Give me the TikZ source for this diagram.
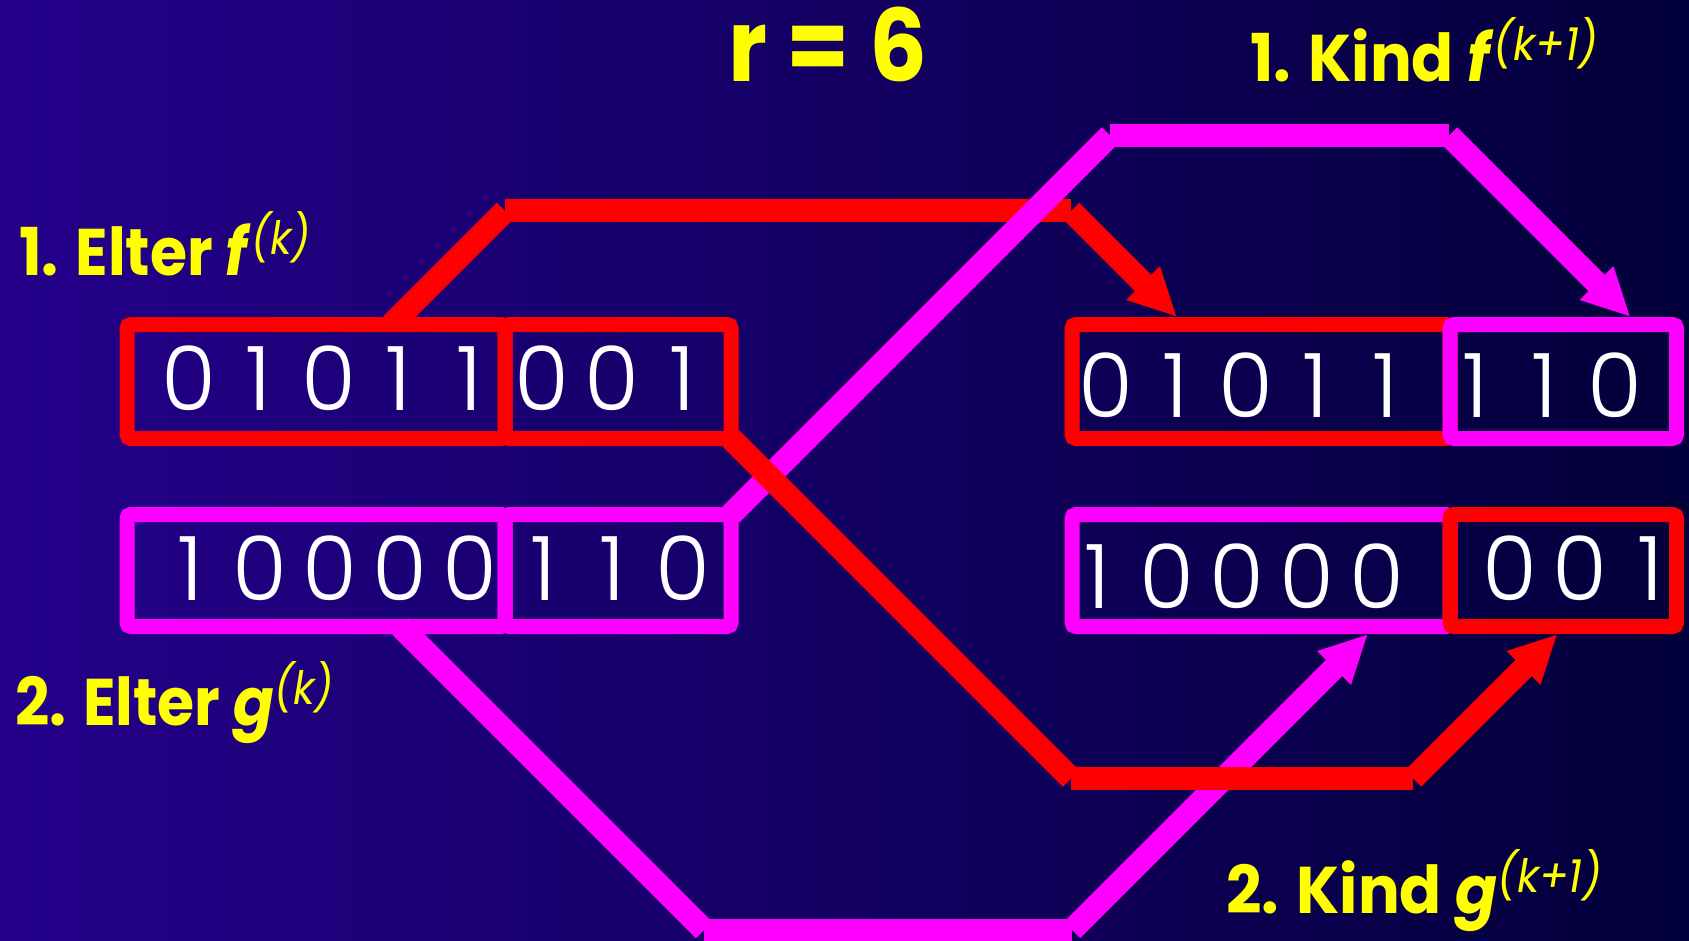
\documentclass[tikz,border=0pt]{standalone}
\usepackage{graphicx}
\usepackage{fontspec}
\setmainfont{Poppins}
\newfontfamily\digitfont{Poppins Light}
\usetikzlibrary{arrows.meta}
\definecolor{bgL}{RGB}{36,0,138}
\definecolor{bgM}{RGB}{22,0,106}
\definecolor{bgR}{RGB}{2,0,58}
\definecolor{cRed}{RGB}{255,0,0}
\definecolor{cMag}{RGB}{255,0,255}
\definecolor{cYel}{RGB}{255,255,0}
\newcommand{\bitcell}[1]{\makebox[70pt][c]{#1}}
\newcommand{\expo}[1]{\raisebox{21pt}{\mdseries\itshape\fontsize{46}{46}\selectfont(#1)}}
\begin{document}
\begin{tikzpicture}[x=1pt,y=-1pt,
  link/.style={line width=23pt, line cap=butt},
  redlink/.style={link, draw=cRed},
  maglink/.style={link, draw=cMag},
  tipped/.style={-{Triangle[length=48pt,width=44pt]}},
  bitbox/.style={draw, line width=15pt, rounded corners=4pt, inner sep=0pt, outer sep=0pt},
  bits/.style={text=white, font=\digitfont\fontsize{89}{89}\selectfont, inner sep=0pt, anchor=base},
  lbl/.style={text=cYel, font=\bfseries\fontsize{66}{66}\selectfont, inner sep=0pt, anchor=base west}]
\useasboundingbox (0,0) rectangle (1689,941);
\shade[left color=bgL, middle color=bgM, right color=bgR] (0,0) rectangle (1689,941);

\coordinate (rA) at (391.5,324.5);
\coordinate (rB) at (505,211);
\coordinate (rC) at (1071,211);
\coordinate (rD) at (1177,317);
\coordinate (mA) at (731,514.5);
\coordinate (mB) at (1110,135.5);
\coordinate (mC) at (1449,135.5);
\coordinate (mD) at (1630.5,317);
\coordinate (rE0) at (731,438.5);
\coordinate (rE) at (1071,778.5);
\coordinate (rF) at (1413,778.5);
\coordinate (rG) at (1557.5,634);
\coordinate (mE) at (400.5,626.5);
\coordinate (mF) at (704,930);
\coordinate (mG) at (1072,930);
\coordinate (mH) at (1368,634);

% red upper path
\draw[redlink] (rA) -- (rB);
\draw[redlink] (rB) -- (rC);
\draw[redlink,tipped] (rC) -- (rD);
% magenta upper path
\draw[maglink] (mA) -- (mB);
\draw[maglink] (mB) -- (mC);
\draw[maglink,tipped] (mC) -- (mD);
% magenta lower path
\draw[maglink] (mE) -- (mF);
\draw[maglink] (mF) -- (mG);
\draw[maglink,tipped] (mG) -- (mH);
% red lower path
\draw[redlink] (rE0) -- (rE);
\draw[redlink] (rE) -- (rF);
\draw[redlink,tipped] (rF) -- (rG);

% boxes
\node[bitbox, draw=cRed, minimum width=378pt, minimum height=114pt] (LTa) at (316,381.5) {};
\node[bitbox, draw=cRed, minimum width=226pt, minimum height=114pt] (LTb) at (618,381.5) {};
\node[bitbox, draw=cMag, minimum width=378pt, minimum height=112pt] (LBa) at (316,570.5) {};
\node[bitbox, draw=cMag, minimum width=226pt, minimum height=112pt] (LBb) at (618,570.5) {};
\node[bitbox, draw=cRed, minimum width=378pt, minimum height=114pt] (RTa) at (1261,381.5) {};
\node[bitbox, draw=cMag, minimum width=226.5pt, minimum height=114pt] (RTb) at (1563.25,381.5) {};
\node[bitbox, draw=cMag, minimum width=378pt, minimum height=112pt] (RBa) at (1261,570.5) {};
\node[bitbox, draw=cRed, minimum width=226.5pt, minimum height=112pt] (RBb) at (1563.25,570.5) {};

% digits
\node[bits] (dLTa) at (329,410) {\bitcell{0}\bitcell{1}\bitcell{0}\bitcell{1}\bitcell{1}};
\node[bits] (dLTb) at (612,410) {\bitcell{0}\bitcell{0}\bitcell{1}};
\node[bits] (dLBa) at (330,600) {\bitcell{1}\bitcell{0}\bitcell{0}\bitcell{0}\bitcell{0}};
\node[bits] (dLBb) at (613,600) {\bitcell{1}\bitcell{1}\bitcell{0}};
\node[bits] (dRTa) at (1245.5,417) {\bitcell{0}\bitcell{1}\bitcell{0}\bitcell{1}\bitcell{1}};
\node[bits] (dRTb) at (1545,417) {\bitcell{1}\bitcell{1}\bitcell{0}};
\node[bits] (dRBa) at (1237,608) {\bitcell{1}\bitcell{0}\bitcell{0}\bitcell{0}\bitcell{0}};
\node[bits] (dRBb) at (1580,600) {\bitcell{0}\bitcell{0}\bitcell{1}};

% labels
\node[lbl, anchor=base, font=\bfseries\fontsize{100}{100}\selectfont] (title) at (828,82) {\scalebox{0.91}[1]{r = 6}};
\node[lbl] (lf) at (19,276) {\scalebox{0.91}[1]{1. Elter \textit{f}\expo{k}}};
\node[lbl] (lg) at (15,725) {\scalebox{0.91}[1]{2. Elter \textit{g}\expo{k}}};
\node[lbl] (kf) at (1250,82) {\scalebox{0.94}[1]{1. Kind \textit{f}\expo{k+1}}};
\node[lbl] (kg) at (1226,913) {\scalebox{0.94}[1]{2. Kind \textit{g}\expo{k+1}}};
\end{tikzpicture}
\end{document}
